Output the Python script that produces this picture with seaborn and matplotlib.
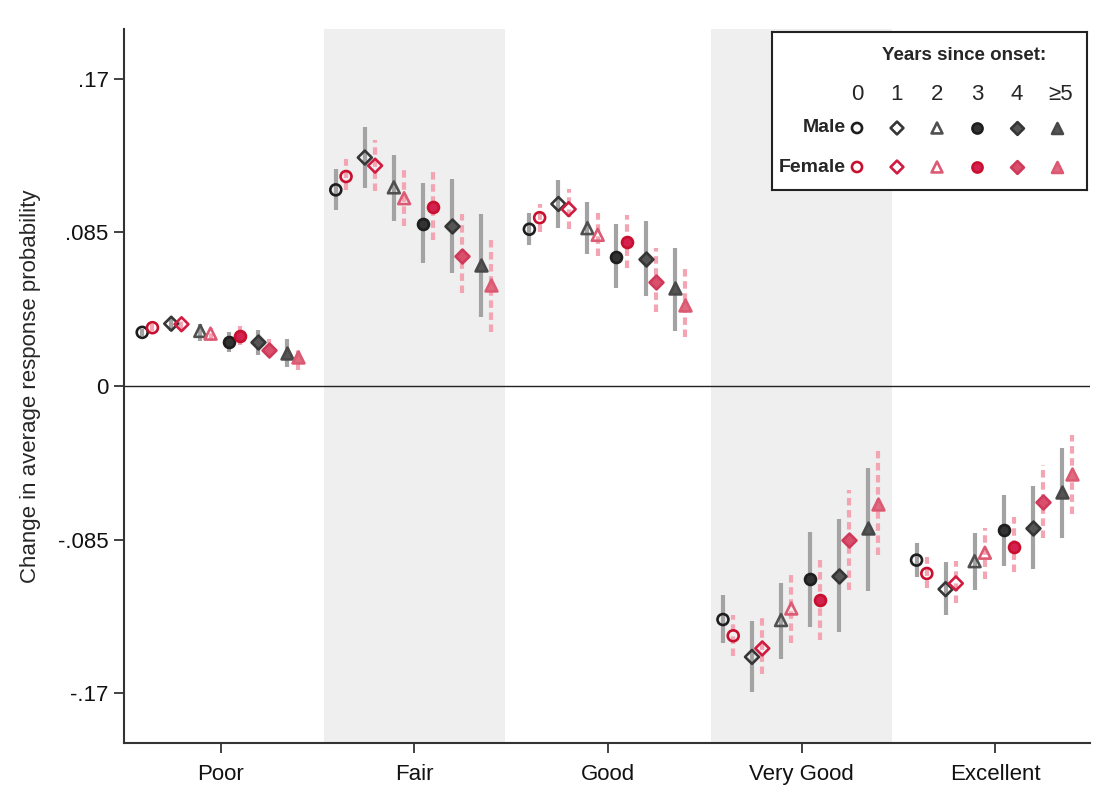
import matplotlib
matplotlib.use("Agg")
import matplotlib.pyplot as plt
import seaborn as sns
import numpy as np
import pandas as pd

sns.set_style("ticks")
plt.rcParams['font.family'] = ['Liberation Sans Narrow', 'Liberation Sans', 'DejaVu Sans']

# 数据
categories = ['Poor', 'Fair', 'Good', 'Very Good', 'Excellent']
years = ['0', '1', '2', '3', '4', '≥5']

male_est = [
    [0.0297, 0.0345, 0.0305, 0.0245, 0.0242, 0.0181],
    [0.1086, 0.1265, 0.1100, 0.0899, 0.0886, 0.0670],
    [0.0868, 0.1008, 0.0874, 0.0716, 0.0704, 0.0541],
    [-0.1293, -0.1500, -0.1296, -0.1071, -0.1051, -0.0788],
    [-0.0964, -0.1125, -0.0970, -0.0798, -0.0788, -0.0585],
]
male_lo = [
    [0.0277, 0.0306, 0.0251, 0.0187, 0.0172, 0.0104],
    [0.0975, 0.1095, 0.0916, 0.0680, 0.0624, 0.0384],
    [0.0781, 0.0877, 0.0731, 0.0540, 0.0500, 0.0305],
    [-0.1422, -0.1694, -0.1514, -0.1333, -0.1361, -0.1134],
    [-0.1060, -0.1269, -0.1130, -0.0996, -0.1014, -0.0844],
]
male_hi = [
    [0.0317, 0.0384, 0.0343, 0.0300, 0.0310, 0.0259],
    [0.1200, 0.1433, 0.1280, 0.1126, 0.1145, 0.0953],
    [0.0957, 0.1140, 0.1020, 0.0896, 0.0914, 0.0763],
    [-0.1158, -0.1302, -0.1088, -0.0807, -0.0738, -0.0456],
    [-0.0868, -0.0977, -0.0816, -0.0604, -0.0554, -0.0342],
]
female_est = [
    [0.0323, 0.0342, 0.0290, 0.0277, 0.0201, 0.0159],
    [0.1160, 0.1220, 0.1040, 0.0993, 0.0720, 0.0560],
    [0.0932, 0.0979, 0.0837, 0.0796, 0.0578, 0.0449],
    [-0.1383, -0.1453, -0.1232, -0.1186, -0.0853, -0.0655],
    [-0.1038, -0.1093, -0.0923, -0.0890, -0.0641, -0.0489],
]
female_lo = [
    [0.0303, 0.0315, 0.0250, 0.0227, 0.0170, 0.0089],
    [0.1086, 0.1080, 0.0886, 0.0809, 0.0514, 0.0301],
    [0.0855, 0.0868, 0.0720, 0.0652, 0.0412, 0.0273],
    [-0.1496, -0.1592, -0.1425, -0.1407, -0.1130, -0.0936],
    [-0.1121, -0.1204, -0.1071, -0.1029, -0.0844, -0.0711],
]
female_hi = [
    [0.0343, 0.0369, 0.0320, 0.0330, 0.0260, 0.0220],
    [0.1256, 0.1360, 0.1197, 0.1187, 0.0953, 0.0810],
    [0.1008, 0.1090, 0.0957, 0.0947, 0.0763, 0.0648],
    [-0.1269, -0.1287, -0.1047, -0.0964, -0.0576, -0.0358],
    [-0.0949, -0.0968, -0.0788, -0.0727, -0.0438, -0.0271],
]

yticks = [0.17, 0.085, 0, -0.085, -0.17]
ytick_labels = ['.17', '.085', '0', '-.085', '-.17']

# 样式
markers = ['o', 'D', '^', 'o', 'D', '^']
marker_size = {'o': 62, 'D': 50, '^': 72}
styles = {
    'Male': {
        'face': ['none', 'none', 'none', '#333333', '#555555', '#555555'],
        'edge': ['#1e1e1e', '#363636', '#505050', '#1e1e1e', '#363636', '#484848'],
    },
    'Female': {
        'face': ['none', 'none', 'none', '#d4214f', '#d9506c', '#e06a80'],
        'edge': ['#c8102e', '#d01c40', '#dc5a74', '#c8102e', '#d03a5a', '#db5a72'],
    },
}

# 整理成长表
rows = []
for ci, cat in enumerate(categories):
    for yi, yr in enumerate(years):
        for sex, est, lo, hi in [('Male', male_est, male_lo, male_hi),
                                 ('Female', female_est, female_lo, female_hi)]:
            offset = -0.406 + 0.15 * yi + (0.053 if sex == 'Female' else 0)
            rows.append({'category': cat, 'year': yr, 'yi': yi, 'sex': sex,
                         'x': ci + 1 + offset,
                         'est': est[ci][yi], 'lo': lo[ci][yi], 'hi': hi[ci][yi]})
df = pd.DataFrame(rows)

fig = plt.figure(figsize=(11.1, 7.87), dpi=100)
ax = fig.add_axes([124 / 1110, 44.3 / 787, 966 / 1110, 713.2 / 787])

# 背景色带
for ci in [1, 3]:
    ax.axvspan(ci + 1 - 0.467, ci + 1 + 0.466, color='#efefef', lw=0, zorder=0)

ax.axhline(0, color='#222222', lw=1.0, zorder=1)

# 置信区间
m = df[df['sex'] == 'Male']
f = df[df['sex'] == 'Female']
ax.vlines(m['x'], m['lo'], m['hi'], color='#a3a3a3', lw=3.0, zorder=2)
ax.vlines(f['x'], f['lo'], f['hi'], color='#f3a5b4', lw=3.0,
          linestyles=[(0, (1.8, 1.1))], zorder=2)

# 点估计
for sex in ['Male', 'Female']:
    for yi in range(len(years)):
        sub = df[(df['sex'] == sex) & (df['yi'] == yi)]
        mk = markers[yi]
        sns.scatterplot(data=sub, x='x', y='est', marker=mk, s=marker_size[mk],
                        facecolor=styles[sex]['face'][yi],
                        edgecolor=styles[sex]['edge'][yi],
                        linewidth=1.9, ax=ax, zorder=3, legend=False)

ax.set_xlim(0.5, 5.49)
ax.set_ylim(-0.1975, 0.1974)
ax.set_xticks(range(1, len(categories) + 1))
ax.set_xticklabels(categories)
ax.set_yticks(yticks)
ax.set_yticklabels(ytick_labels)
ax.set_xlabel('')
ax.set_ylabel('Change in average response probability', fontsize=16, labelpad=12)
ax.tick_params(axis='both', length=7, width=1.3, color='#333333', labelsize=16,
               labelcolor='#111111')
ax.tick_params(axis='x', pad=8)
ax.tick_params(axis='y', pad=4)
sns.despine(ax=ax)
for side in ['left', 'bottom']:
    ax.spines[side].set_linewidth(1.5)
    ax.spines[side].set_color('#333333')

# 图例
lax = fig.add_axes([772 / 1110, (787 - 190) / 787, 315 / 1110, 158 / 787], zorder=5)
lax.set_xlim(772, 1087)
lax.set_ylim(190, 32)
lax.set_xticks([])
lax.set_yticks([])
lax.set_facecolor('white')
for sp in lax.spines.values():
    sp.set_linewidth(1.5)
    sp.set_color('#222222')

lax.text(964, 56, 'Years since onset:', ha='center', va='center',
         fontsize=13.5, fontweight='bold')
col_x = [857 + 40 * i for i in range(len(years))]
for x, yr in zip(col_x, years):
    lax.text(x + (4 if yr == '≥5' else 0), 95, yr, ha='center', va='center', fontsize=16)
row_y = {'Male': 128, 'Female': 167}
for sex, yy in row_y.items():
    lax.text(846, yy, sex, ha='right', va='center', fontsize=14, fontweight='bold')
    leg = pd.DataFrame({'x': col_x, 'y': [yy] * len(col_x)})
    for yi in range(len(years)):
        mk = markers[yi]
        sns.scatterplot(data=leg.iloc[[yi]], x='x', y='y', marker=mk,
                        s=marker_size[mk] * 0.85,
                        facecolor=styles[sex]['face'][yi],
                        edgecolor=styles[sex]['edge'][yi],
                        linewidth=1.9, ax=lax, legend=False)
lax.set_xlabel('')
lax.set_ylabel('')

plt.savefig('out.png', dpi=100)
plt.close()
